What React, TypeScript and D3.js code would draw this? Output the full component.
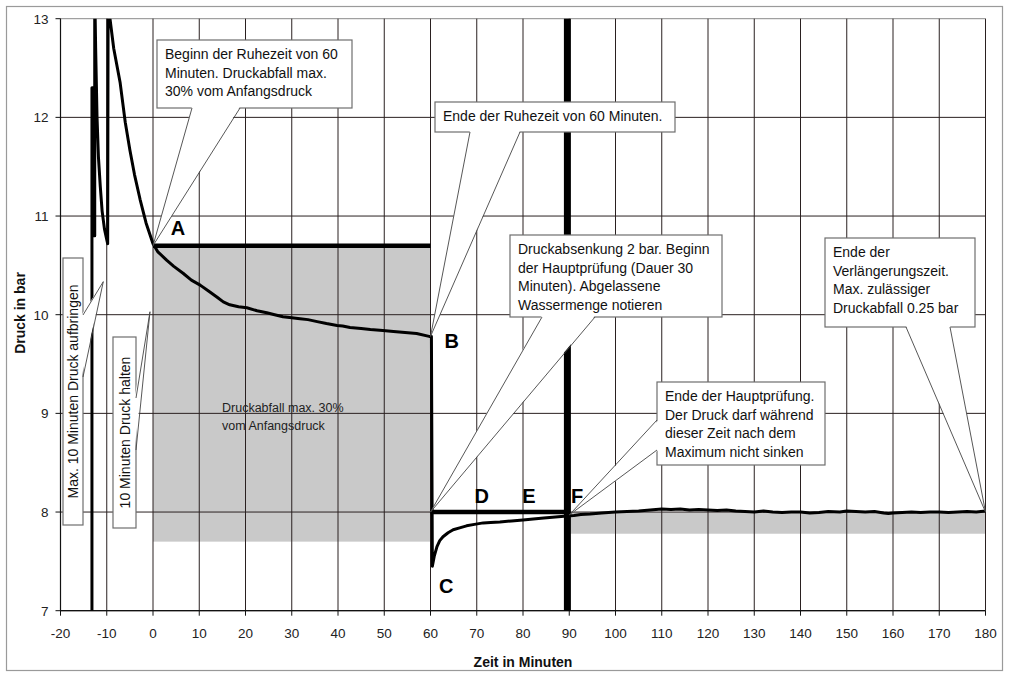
import React from "react";
import * as d3 from "d3";

// ---- data (minutes, bar) ----
const xTicks = [-20, -10, 0, 10, 20, 30, 40, 50, 60, 70, 80, 90, 100, 110, 120, 130, 140, 150, 160, 170, 180];
const yTicks = [7, 8, 9, 10, 11, 12, 13];

const pressureCurve: [number, number][] = [
  [-13.2, 7.0], [-13.2, 12.3], [-12.8, 12.3], [-12.8, 10.8], [-12.6, 10.8], [-12.6, 13.3],
  [-12.4, 12.7], [-12.1, 12.0], [-11.8, 11.6], [-11.4, 11.3], [-11.0, 11.05], [-10.5, 10.87],
  [-10.0, 10.76], [-9.8, 10.72], [-9.7, 13.3], [-9.3, 13.0], [-8.5, 12.7], [-7.1, 12.35],
  [-6.0, 11.95], [-5.0, 11.67], [-4.0, 11.42], [-2.8, 11.17], [-1.5, 10.93], [0, 10.72],
  [1, 10.64], [3, 10.55], [4.5, 10.49], [6.5, 10.42], [8.3, 10.35], [10.2, 10.3], [12, 10.24],
  [13.8, 10.18], [15.2, 10.13], [16.6, 10.1], [18.5, 10.08], [20.3, 10.07], [22.5, 10.04],
  [24.6, 10.02], [26.3, 10.0], [28.1, 9.98], [30, 9.97], [31.8, 9.96], [33.5, 9.95], [35.5, 9.93],
  [37.5, 9.91], [39.8, 9.89], [41, 9.885], [42.6, 9.87], [45, 9.86], [47, 9.85], [49.7, 9.84],
  [52, 9.83], [54.5, 9.82], [57, 9.81], [59.7, 9.78], [60.2, 9.78], [60.4, 7.45], [60.8, 7.55],
  [61.4, 7.65], [62.0, 7.71], [62.7, 7.75], [63.8, 7.79], [64.9, 7.82], [66.3, 7.84], [67.8, 7.86],
  [69.5, 7.875], [71.4, 7.89], [73, 7.895], [75, 7.9], [77.5, 7.91], [80, 7.92], [82.2, 7.93],
  [84.5, 7.94], [87, 7.95], [89.5, 7.96], [91, 7.965], [92.5, 7.975], [94.5, 7.98], [97, 7.99],
  [100, 8.0], [102.5, 8.005], [105, 8.01], [107.5, 8.02], [110, 8.03], [112, 8.025], [114, 8.03],
  [116, 8.02], [118, 8.025], [120, 8.02], [122, 8.015], [124, 8.02], [126, 8.01], [128, 8.005],
  [130, 8.0], [132, 8.01], [134, 8.0], [136, 7.995], [138, 8.0], [140, 8.0], [142, 7.99],
  [144, 7.995], [146, 8.005], [148.5, 8.0], [150, 8.01], [152, 8.005], [154, 8.0], [156, 8.005],
  [158, 7.99], [159, 7.985], [160, 7.99], [162, 7.995], [164, 8.0], [166, 7.995], [168, 8.0],
  [170, 8.0], [172, 7.995], [174, 8.0], [176, 8.005], [178, 8.0], [180, 8.01],
];

// shaded tolerance bands: [t0, t1, pLow, pHigh]
const bands: [number, number, number, number][] = [
  [0, 60, 7.7, 10.7],
  [90, 180, 7.78, 8.0],
];

// thick reference lines: [t0, p0, t1, p1, width]
const refLines: [number, number, number, number, number][] = [
  [0, 10.7, 60, 10.7, 4.5],
  [60, 8.0, 90, 8.0, 4.5],
  [89.6, 7, 89.6, 13, 7],
];

const pointLabels: { text: string; t: number; p: number }[] = [
  { text: "A", t: 5.4, p: 10.81 },
  { text: "B", t: 64.6, p: 9.66 },
  { text: "C", t: 63.4, p: 7.18 },
  { text: "D", t: 71.1, p: 8.09 },
  { text: "E", t: 81.3, p: 8.09 },
  { text: "F", t: 91.7, p: 8.09 },
];

type Callout = {
  lines: string[];
  box: [number, number, number, number];
  base: [[number, number], [number, number]];
  tip: [number, number];
  side: "bottom" | "left" | "right";
  vertical?: boolean;
};

const callouts: Callout[] = [
  {
    lines: ["Beginn der Ruhezeit von 60", "Minuten. Druckabfall max.", "30% vom Anfangsdruck"],
    box: [157, 40, 195, 68], base: [[192, 108], [240, 108]], tip: [0, 10.7], side: "bottom",
  },
  {
    lines: ["Ende der Ruhezeit von 60 Minuten."],
    box: [435, 102, 240, 30], base: [[470, 132], [520, 132]], tip: [60, 9.78], side: "bottom",
  },
  {
    lines: ["Druckabsenkung 2 bar. Beginn", "der Hauptprüfung (Dauer 30", "Minuten). Abgelassene", "Wassermenge notieren"],
    box: [510, 235, 212, 82], base: [[542, 317], [595, 317]], tip: [60, 8.0], side: "bottom",
  },
  {
    lines: ["Ende der Hauptprüfung.", "Der Druck darf während", "dieser Zeit nach dem", "Maximum nicht sinken"],
    box: [657, 382, 168, 83], base: [[657, 420], [657, 450]], tip: [90, 7.97], side: "left",
  },
  {
    lines: ["Ende der", "Verlängerungszeit.", "Max. zulässiger", "Druckabfall 0.25 bar"],
    box: [825, 238, 150, 89], base: [[906, 327], [950, 327]], tip: [180, 8.0], side: "bottom",
  },
  {
    lines: ["Max. 10 Minuten Druck aufbringen"],
    box: [63, 258, 20, 267], base: [[83, 315], [83, 377]], tip: [-10.75, 10.335], side: "right", vertical: true,
  },
  {
    lines: ["10 Minuten Druck halten"],
    box: [113, 337, 23, 191], base: [[136, 398], [136, 450]], tip: [-0.65, 10.03], side: "right", vertical: true,
  },
];

const FONT = "'Liberation Sans', Arial, Helvetica, sans-serif";

export default function App() {
  const x = d3.scaleLinear().domain([-20, 180]).range([60.5, 985.5]);
  const y = d3.scaleLinear().domain([7, 13]).range([610.7, 18.7]);
  const line = d3.line<[number, number]>().x((d) => x(d[0])).y((d) => y(d[1]));
  const [x0, x1] = x.range();
  const [yb, yt] = y.range();

  return (
    <svg width={1010} height={686} style={{ position: "absolute", left: 0, top: 0, background: "#fff" }} fontFamily={FONT}>
      <defs>
        <clipPath id="plot">
          <rect x={x0} y={yt} width={x1 - x0} height={yb - yt} />
        </clipPath>
      </defs>
      <rect x={6.5} y={6.5} width={996} height={664} fill="#fff" stroke="#9a9a9a" strokeWidth={1.2} />

      {/* bands */}
      {bands.map((b, i) => (
        <rect key={i} x={x(b[0])} y={y(b[3])} width={x(b[1]) - x(b[0])} height={y(b[2]) - y(b[3])} fill="#c9c9c9" />
      ))}

      {/* grid */}
      {yTicks.map((v) => (
        <line key={"gy" + v} x1={x0} x2={x1} y1={y(v)} y2={y(v)} stroke={v === 13 ? "#8a8a8a" : "#2a2020"} strokeWidth={1} />
      ))}
      {xTicks.map((v) => (
        <line key={"gx" + v} x1={x(v)} x2={x(v)} y1={yt} y2={yb} stroke="#2a2020" strokeWidth={1} />
      ))}

      {/* axes */}
      <line x1={x0} x2={x0} y1={yt} y2={yb} stroke="#111" strokeWidth={1.2} />
      <line x1={x0} x2={x1} y1={yb} y2={yb} stroke="#111" strokeWidth={1.2} />
      {yTicks.map((v) => (
        <g key={"ty" + v}>
          <line x1={x0 - 5} x2={x0} y1={y(v)} y2={y(v)} stroke="#111" />
          <text x={x0 - 12} y={y(v) + 5} textAnchor="end" fontSize={13.5} fill="#222">{v}</text>
        </g>
      ))}
      {xTicks.map((v) => (
        <g key={"tx" + v}>
          <line x1={x(v)} x2={x(v)} y1={yb} y2={yb + 5} stroke="#111" />
          <text x={x(v)} y={638} textAnchor="middle" fontSize={13.5} fill="#222">{v}</text>
        </g>
      ))}
      <text x={523} y={667} textAnchor="middle" fontSize={14} fontWeight="bold" fill="#111">Zeit in Minuten</text>
      <text transform="translate(25,313) rotate(-90)" textAnchor="middle" fontSize={14} fontWeight="bold" fill="#111">Druck in bar</text>

      {/* band note */}
      <text x={222} y={412} fontSize={12.5} fill="#222">Druckabfall max. 30%</text>
      <text x={222} y={430} fontSize={12.5} fill="#222">vom Anfangsdruck</text>

      {/* reference lines */}
      {refLines.map((r, i) => (
        <line key={"r" + i} x1={x(r[0])} y1={y(r[1])} x2={x(r[2])} y2={y(r[3])} stroke="#000" strokeWidth={r[4]} />
      ))}

      {/* curve */}
      <g clipPath="url(#plot)">
        <path d={line(pressureCurve) || ""} fill="none" stroke="#000" strokeWidth={3} strokeLinejoin="round" />
      </g>

      {/* point labels */}
      {pointLabels.map((l) => (
        <text key={l.text} x={x(l.t)} y={y(l.p)} textAnchor="middle" fontSize={20} fontWeight="bold" fill="#000">{l.text}</text>
      ))}

      {/* callouts */}
      {callouts.map((c, i) => {
        const [bx, by, bw, bh] = c.box;
        const tx = x(c.tip[0]);
        const ty = y(c.tip[1]);
        const [b1, b2] = c.base;
        const inset = c.side === "bottom" ? [0, -1.5] : c.side === "left" ? [1.5, 0] : [-1.5, 0];
        const wedge = `M${b1[0] + inset[0]},${b1[1] + inset[1]} L${tx},${ty} L${b2[0] + inset[0]},${b2[1] + inset[1]} Z`;
        return (
          <g key={"c" + i}>
            <rect x={bx} y={by} width={bw} height={bh} fill="#fff" stroke="#6e6e6e" strokeWidth={1.2} />
            <path d={wedge} fill="#fff" stroke="none" />
            <line x1={b1[0]} y1={b1[1]} x2={tx} y2={ty} stroke="#444" strokeWidth={0.9} />
            <line x1={b2[0]} y1={b2[1]} x2={tx} y2={ty} stroke="#444" strokeWidth={0.9} />
            {c.vertical ? (
              <text transform={`translate(${bx + bw / 2 + 5},${by + bh / 2}) rotate(-90)`} textAnchor="middle" fontSize={14} fill="#111">
                {c.lines[0]}
              </text>
            ) : (
              c.lines.map((t, j) => (
                <text key={j} x={bx + 8} y={by + 19 + j * 18.7} fontSize={14} fill="#111">{t}</text>
              ))
            )}
          </g>
        );
      })}
    </svg>
  );
}
